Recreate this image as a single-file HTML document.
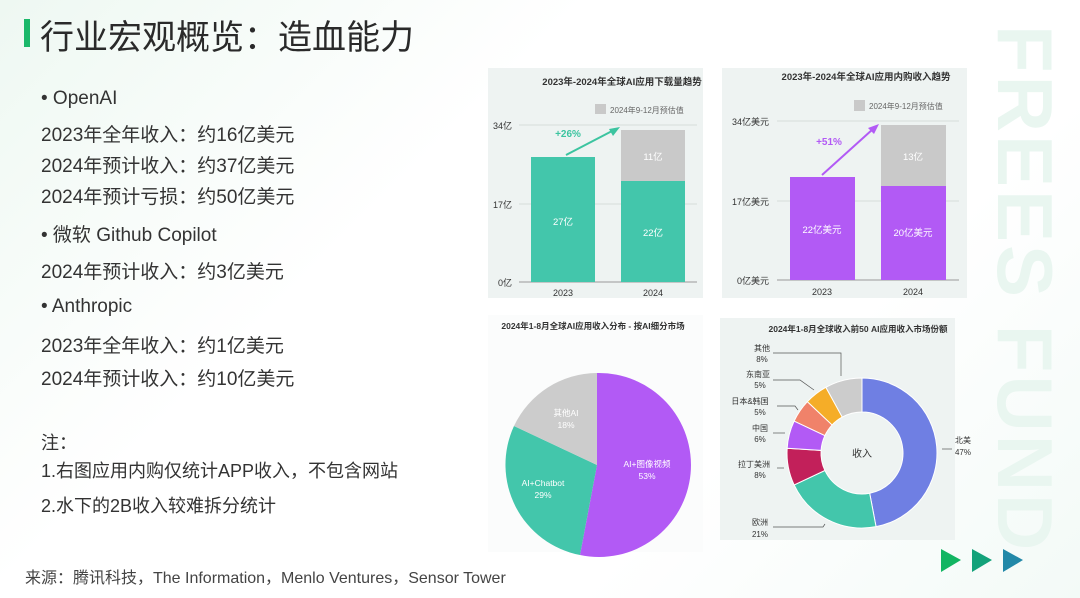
<!DOCTYPE html>
<html><head><meta charset="utf-8"><style>
html,body{margin:0;padding:0}
body{width:1080px;height:598px;overflow:hidden;position:relative;background:linear-gradient(135deg,#eef8f2 0%,#ffffff 35%,#ffffff 70%,#f3faf7 100%);font-family:"Liberation Sans","Noto Sans CJK SC",sans-serif;color:#333}
.t{position:absolute;white-space:nowrap}
</style></head><body>
<div class="t" style="left:24px;top:19px;width:6px;height:28px;background:#1bb86a"></div>
<div class="t" style="left:40px;top:10px;font-size:34px;color:#2a2a2a;">行业宏观概览：造血能力</div>
<div class="t" style="left:41px;top:88px;font-size:19px;color:#333">• OpenAI</div>
<div class="t" style="left:41px;top:120px;font-size:19px;color:#333">2023年全年收入：约16亿美元</div>
<div class="t" style="left:41px;top:151px;font-size:19px;color:#333">2024年预计收入：约37亿美元</div>
<div class="t" style="left:41px;top:182px;font-size:19px;color:#333">2024年预计亏损：约50亿美元</div>
<div class="t" style="left:41px;top:220px;font-size:19px;color:#333">• 微软 Github Copilot</div>
<div class="t" style="left:41px;top:257px;font-size:19px;color:#333">2024年预计收入：约3亿美元</div>
<div class="t" style="left:41px;top:296px;font-size:19px;color:#333">• Anthropic</div>
<div class="t" style="left:41px;top:331px;font-size:19px;color:#333">2023年全年收入：约1亿美元</div>
<div class="t" style="left:41px;top:364px;font-size:19px;color:#333">2024年预计收入：约10亿美元</div>
<div class="t" style="left:41px;top:429px;font-size:18px;color:#333">注：</div>
<div class="t" style="left:41px;top:457px;font-size:18px;color:#333">1.右图应用内购仅统计APP收入，不包含网站</div>
<div class="t" style="left:41px;top:492px;font-size:18px;color:#333">2.水下的2B收入较难拆分统计</div>
<div class="t" style="left:25px;top:564px;font-size:16px;color:#444">来源：腾讯科技，The Information，Menlo Ventures，Sensor Tower</div>

<svg width="1080" height="598" style="position:absolute;left:0;top:0" xmlns="http://www.w3.org/2000/svg" font-family="Liberation Sans, Noto Sans CJK SC, sans-serif">
<text transform="translate(998,25) rotate(90)" font-size="78" font-weight="bold" fill="#e9f6f0" letter-spacing="3">FREES FUND</text>
<!-- panel 1 -->
<rect x="488" y="68" width="215" height="230" fill="#eef3f2"/>
<text x="622" y="85" font-size="9.5" font-weight="bold" fill="#333" text-anchor="middle">2023年-2024年全球AI应用下载量趋势</text>
<rect x="595" y="104" width="11" height="10" fill="#c9c9c9"/>
<text x="610" y="113" font-size="8" fill="#666">2024年9-12月预估值</text>
<g stroke="#d6dcdb" stroke-width="1"><line x1="519" y1="125" x2="697" y2="125"/><line x1="519" y1="204" x2="697" y2="204"/></g>
<line x1="519" y1="282" x2="697" y2="282" stroke="#999"/>
<g font-size="9" fill="#333" text-anchor="end"><text x="512" y="129">34亿</text><text x="512" y="208">17亿</text><text x="512" y="286">0亿</text></g>
<rect x="531" y="157" width="64" height="125" fill="#43c6ab"/>
<rect x="621" y="181" width="64" height="101" fill="#43c6ab"/>
<rect x="621" y="130" width="64" height="51" fill="#c9c9c9"/>
<g font-size="9.5" fill="#fff" text-anchor="middle"><text x="563" y="225">27亿</text><text x="653" y="236">22亿</text><text x="653" y="160">11亿</text></g>
<line x1="566" y1="155" x2="614" y2="130" stroke="#3cc4a0" stroke-width="2"/><polygon points="620,127 609,129 613,136" fill="#3cc4a0"/>
<text x="568" y="137" font-size="10" font-weight="bold" fill="#3cc4a0" text-anchor="middle">+26%</text>
<g font-size="9" fill="#333" text-anchor="middle"><text x="563" y="296">2023</text><text x="653" y="296">2024</text></g>
<!-- panel 2 -->
<rect x="722" y="68" width="245" height="230" fill="#eef3f2"/>
<text x="866" y="80" font-size="9.5" font-weight="bold" fill="#333" text-anchor="middle">2023年-2024年全球AI应用内购收入趋势</text>
<rect x="854" y="100" width="11" height="11" fill="#c9c9c9"/>
<text x="869" y="109" font-size="8" fill="#666">2024年9-12月预估值</text>
<g stroke="#d6dcdb"><line x1="777" y1="121" x2="959" y2="121"/><line x1="777" y1="201" x2="959" y2="201"/></g>
<line x1="777" y1="280" x2="959" y2="280" stroke="#999"/>
<g font-size="9" fill="#333" text-anchor="end"><text x="769" y="125">34亿美元</text><text x="769" y="205">17亿美元</text><text x="769" y="284">0亿美元</text></g>
<rect x="790" y="177" width="65" height="103" fill="#b25af5"/>
<rect x="881" y="186" width="65" height="94" fill="#b25af5"/>
<rect x="881" y="125" width="65" height="61" fill="#c9c9c9"/>
<g font-size="9.5" fill="#fff" text-anchor="middle"><text x="822" y="233">22亿美元</text><text x="913" y="236">20亿美元</text><text x="913" y="160">13亿</text></g>
<line x1="822" y1="175" x2="873" y2="129" stroke="#b25af5" stroke-width="2"/><polygon points="879,124 868,128 874,134" fill="#b25af5"/>
<text x="829" y="145" font-size="10" font-weight="bold" fill="#b25af5" text-anchor="middle">+51%</text>
<g font-size="9" fill="#333" text-anchor="middle"><text x="822" y="295">2023</text><text x="913" y="295">2024</text></g>
<!-- pie -->
<rect x="488" y="315" width="215" height="237" fill="#fbfcfc"/>
<text x="593" y="329" font-size="8.5" font-weight="bold" fill="#333" text-anchor="middle">2024年1-8月全球AI应用收入分布 - 按AI细分市场</text>
<path d="M597,465 L597,373 A92,92 0 1 1 580,555 Z" fill="#b25af5"/>
<path d="M597,465 L580,555 A92,92 0 0 1 514,426 Z" fill="#43c6ab"/>
<path d="M597,465 L514,426 A92,92 0 0 1 597,373 Z" fill="#cccccc"/>
<g font-size="8.5" fill="#fff" text-anchor="middle"><text x="566" y="416">其他AI</text><text x="566" y="428">18%</text><text x="647" y="467">AI+图像视频</text><text x="647" y="479">53%</text><text x="543" y="486">AI+Chatbot</text><text x="543" y="498">29%</text></g>
<!-- donut -->
<rect x="720" y="318" width="235" height="222" fill="#eef3f2"/>
<text x="858" y="332" font-size="8.5" font-weight="bold" fill="#333" text-anchor="middle">2024年1-8月全球收入前50 AI应用收入市场份额</text>
<g id="donut"></g>
<text x="862" y="457" font-size="10" fill="#333" text-anchor="middle">收入</text>
<g font-size="8" fill="#333" text-anchor="middle">
<text x="762" y="351">其他</text><text x="762" y="362">8%</text>
<text x="758" y="377">东南亚</text><text x="760" y="388">5%</text>
<text x="750" y="404">日本&amp;韩国</text><text x="760" y="415">5%</text>
<text x="760" y="431">中国</text><text x="760" y="442">6%</text>
<text x="754" y="467">拉丁美洲</text><text x="760" y="478">8%</text>
<text x="760" y="525">欧洲</text><text x="760" y="537">21%</text>
<text x="963" y="443">北美</text><text x="963" y="455">47%</text>
</g>
<g stroke="#555" stroke-width="0.7" fill="none">
<polyline points="773,353 841,353 841,376"/><polyline points="773,380 800,380 814,390"/><polyline points="777,406 795,406 798,410"/><polyline points="773,433 785,433"/><polyline points="777,468 784,468"/><polyline points="773,527 823,527 825,524"/><line x1="942" y1="449" x2="952" y2="449"/>
</g>
<polygon points="941,549 961,560 941,572" fill="#12b562"/>
<polygon points="972,549 992,560 972,572" fill="#13a27a"/>
<polygon points="1003,549 1023,560 1003,572" fill="#2288a8"/>
</svg>
<script>
(function(){
var cx=862,cy=453,R=75,r=41,segs=[[47,'#6f7fe3'],[21,'#43c6ab'],[8,'#c2205a'],[6,'#b25af5'],[5,'#f0826a'],[5,'#f5ad28'],[8,'#cccccc']];
var a=0,h='';
function p(rr,ang){var t=ang*Math.PI/180;return (cx+rr*Math.sin(t)).toFixed(2)+','+(cy-rr*Math.cos(t)).toFixed(2);}
segs.forEach(function(s){var b=a+s[0]*3.6,l=(b-a)>180?1:0;
h+='<path d="M'+p(R,a)+' A'+R+','+R+' 0 '+l+' 1 '+p(R,b)+' L'+p(r,b)+' A'+r+','+r+' 0 '+l+' 0 '+p(r,a)+' Z" fill="'+s[1]+'" stroke="#fff" stroke-width="1"/>';a=b;});
document.getElementById('donut').innerHTML=h;
})();
</script>
</body></html>
